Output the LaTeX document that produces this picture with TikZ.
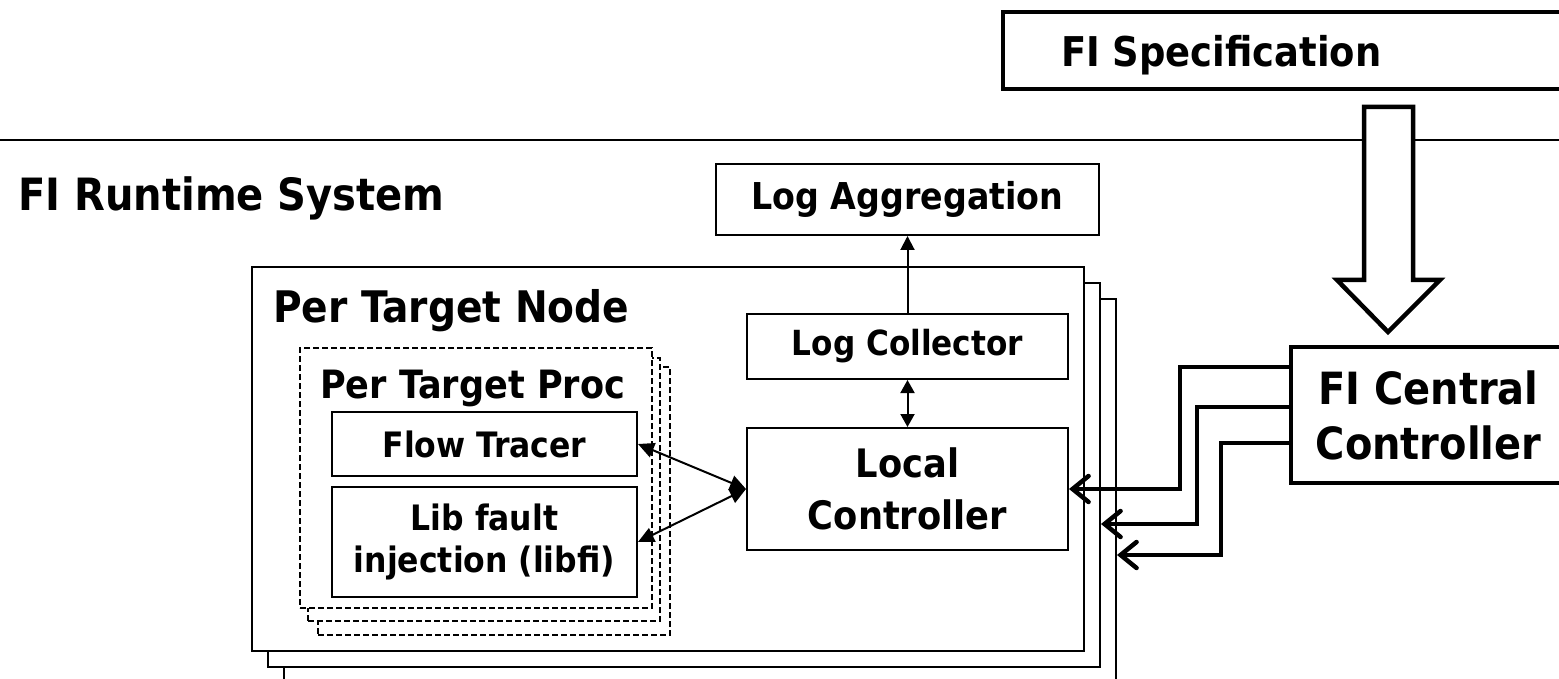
\documentclass[tikz,border=0pt]{standalone}
\usepackage{fontspec}
\setmainfont{DejaVu Sans Condensed}[BoldFont={DejaVu Sans Condensed Bold}]
\usetikzlibrary{arrows.meta}
\newcommand\lblfont[2]{\bfseries\fontsize{#1}{#2}\selectfont}
\tikzset{
  box/.style={draw, line width=2pt, fill=white, inner sep=0pt, align=center},
  thickbox/.style={draw, line width=4.5pt, fill=white, inner sep=0pt, align=center},
  stackbox/.style={draw, line width=2pt, fill=white},
  dashbox/.style={draw, line width=2.2pt, fill=white, dash pattern=on 6pt off 3pt},
  txt/.style={inner sep=0pt, anchor=base west},
  thinarr/.style={line width=2pt, -{Triangle[length=14pt,width=14pt]}},
  thinboth/.style={line width=2pt, {Triangle[length=13pt,width=14pt]}-{Triangle[length=13pt,width=14pt]}},
  sideboth/.style={line width=2pt, {Triangle[length=16pt,width=15pt]}-{Triangle[length=16pt,width=15pt]}},
  ctl/.style={line width=4.5pt, line join=miter, -{Straight Barb[length=16pt,width=26pt,line cap=round]}},
  hollow/.style={line width=4.5pt, fill=white, line join=miter},
}
\begin{document}
\begin{tikzpicture}[x=1pt,y=-1pt]
\useasboundingbox (0,0) rectangle (1559,679);
\clip (0,0) rectangle (1559,679);

% separator
\coordinate (sepL) at (0,140);
\coordinate (sepR) at (1559,140);
\draw[line width=2pt] (sepL) -- (sepR);

% FI specification
\node[thickbox, minimum width=697pt, minimum height=77pt] (spec) at (1351.5,50.5) {};
\node[txt, font=\lblfont{41pt}{50pt}] (spectxt) at (1061,67) {FI Specification};

% hollow arrow
\draw[hollow] (1364,107) -- (1413,107) -- (1413,280) -- (1440,280) -- (1388,332) -- (1337,280) -- (1364,280) -- cycle;

% FI Central Controller
\node[thickbox, minimum width=275pt, minimum height=136pt, font=\lblfont{44.4pt}{55pt}] (central) at (1428.5,415) {FI Central\\Controller};

% runtime label
\node[txt, font=\lblfont{44.5pt}{50pt}] (rt) at (18,211) {FI Runtime System};

% Log aggregation
\node[box, minimum width=383pt, minimum height=71pt, font=\lblfont{37pt}{45pt}] (logagg) at (907.5,199.5) {Log Aggregation};

% per target node stack
\node[stackbox, minimum width=832pt, minimum height=384pt] (node3) at (700,491) {};
\node[stackbox, minimum width=832pt, minimum height=384pt] (node2) at (684,475) {};
\node[stackbox, minimum width=832pt, minimum height=384pt] (node1) at (668,459) {};
\node[txt, font=\lblfont{43.5pt}{50pt}] (pernode) at (273,323) {Per Target Node};

% per target proc stack
\node[dashbox, minimum width=352pt, minimum height=268pt] (proc3) at (494,501) {};
\node[dashbox, minimum width=352pt, minimum height=263pt] (proc2) at (484,489.5) {};
\node[dashbox, minimum width=352pt, minimum height=260pt] (proc1) at (476,478) {};
\node[txt, font=\lblfont{39pt}{45pt}] (perproc) at (320,398) {Per Target Proc};

\node[box, minimum width=305pt, minimum height=64pt, font=\lblfont{35pt}{42pt}] (flow) at (484.5,444) {Flow Tracer};
\node[box, minimum width=305pt, minimum height=110pt, font=\lblfont{35pt}{42pt}] (lib) at (484.5,542) {Lib fault\\injection (libfi)};

% log collector & local controller
\node[box, minimum width=321pt, minimum height=65pt, font=\lblfont{34.6pt}{42pt}] (logcol) at (907.5,346.5) {Log Collector};
\node[box, minimum width=321pt, minimum height=122pt, font=\lblfont{39.2pt}{52pt}] (local) at (907.5,489) {Local\\Controller};

% thin arrows
\draw[thinarr] (logcol.north) -- (logagg.south);
\draw[thinboth] (logcol.south) -- (local.north);
\draw[sideboth] (local.west) -- (flow.east);
\draw[sideboth] (local.west) -- (lib.east);

% control connectors
\coordinate (k1) at (1180,489);
\coordinate (k2) at (1197,524);
\coordinate (k3) at (1221,555);
\draw[ctl] ([yshift=48pt]central.west) -| (k1) -- (local.east);
\draw[ctl] ([yshift=8pt]central.west) -| (k2) -- (k2 -| node2.east);
\draw[ctl] ([yshift=-28pt]central.west) -| (k3) -- (k3 -| node3.east);
\end{tikzpicture}
\end{document}
